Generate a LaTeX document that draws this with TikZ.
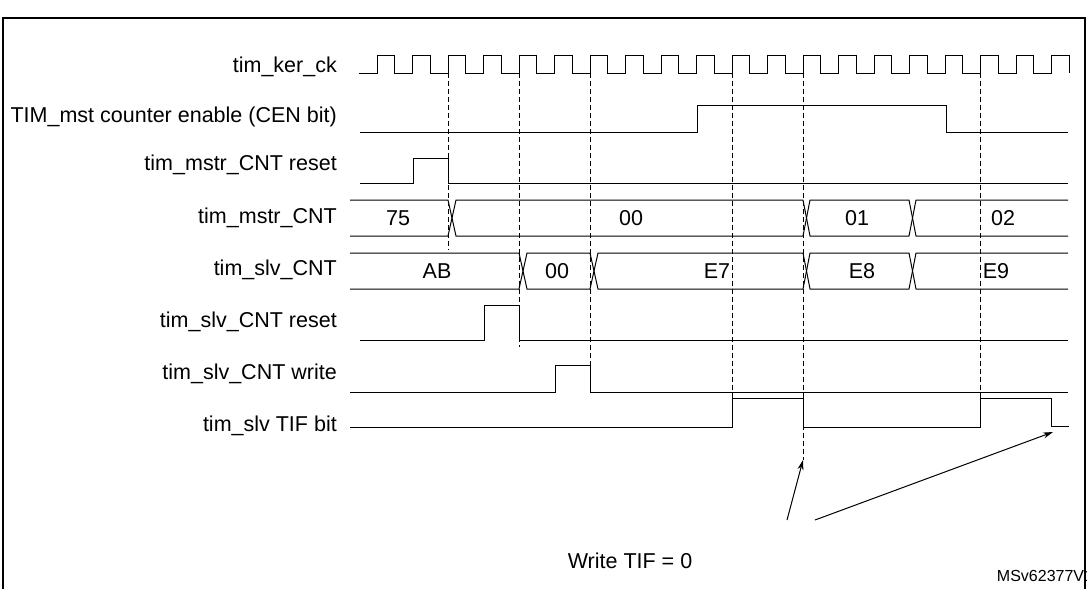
\documentclass[tikz,border=0pt]{standalone}
\usepackage{fontspec}
\setmainfont{Liberation Sans}
\usetikzlibrary{arrows.meta}
\begin{document}
\begin{tikzpicture}[x=1pt,y=-1pt,
  sig/.style={line width=1pt,line join=miter},
  lbl/.style={anchor=east,font=\fontsize{21.5}{25}\selectfont,inner sep=0pt},
  val/.style={font=\fontsize{21.5}{25}\selectfont,inner sep=0pt},
  dsh/.style={dashed,line width=0.7pt,dash pattern=on 5pt off 3pt},
  arr/.style={-{Stealth[length=10pt,width=6pt]},line width=1pt}]
\useasboundingbox (0,0) rectangle (1087,589);
\draw[line width=1.2pt] (3,600) -- (3,18) -- (1085,18) -- (1085,600);
% labels
\node[lbl] (l1) at (337,67) {tim\_ker\_ck};
\node[lbl] (l2) at (337,117) {TIM\_mst counter enable (CEN bit)};
\node[lbl] (l3) at (337,165) {tim\_mstr\_CNT reset};
\node[lbl] (l4) at (337,218) {tim\_mstr\_CNT};
\node[lbl] (l5) at (337,270) {tim\_slv\_CNT};
\node[lbl] (l6) at (337,322) {tim\_slv\_CNT reset};
\node[lbl] (l7) at (337,374) {tim\_slv\_CNT write};
\node[lbl] (l8) at (337,426) {tim\_slv TIF bit};
% clock
\draw[sig] (359,73) -- (377,73)
 \foreach \k in {0,...,18} { -- ({377+35.5*\k},73) -- ({377+35.5*\k},55) -- ({394.75+35.5*\k},55) -- ({394.75+35.5*\k},73) -- ({412.5+35.5*\k},73) }
 -- (1051.5,73) -- (1051.5,55) -- (1069,55) -- (1069,73);
% dashed
\draw[dsh] (448,73) -- (448,250);
\draw[dsh] (519,73) -- (519,347);
\draw[dsh] (590,73) -- (590,366);
\draw[dsh] (732.5,73) -- (732.5,398);
\draw[dsh] (803.5,73) -- (803.5,460);
\draw[dsh] (980.5,73) -- (980.5,398);
% CEN
\draw[sig] (360,132) -- (697,132) -- (697,105) -- (946,105) -- (946,132) -- (1068,132);
% mstr reset
\draw[sig] (360,183) -- (413,183) -- (413,158) -- (448.5,158) -- (448.5,183) -- (1068,183);
% mstr_CNT bus
\draw[sig] (350,200) -- (448,200) -- (456,236) -- (803,236) -- (810,200) -- (909,200) -- (916,236) -- (1068,236);
\draw[sig] (350,236) -- (448,236) -- (456,200) -- (803,200) -- (810,236) -- (909,236) -- (916,200) -- (1068,200);
\node[val] (m1) at (398,218) {75};
\node[val] (m2) at (631,218) {00};
\node[val] (m3) at (857,218) {01};
\node[val] (m4) at (1003,218) {02};
% slv_CNT bus
\draw[sig] (350,253) -- (519,253) -- (527,289) -- (590,289) -- (598,253) -- (803,253) -- (810,289) -- (909,289) -- (916,253) -- (1068,253);
\draw[sig] (350,289) -- (519,289) -- (527,253) -- (590,253) -- (598,289) -- (803,289) -- (810,253) -- (909,253) -- (916,289) -- (1068,289);
\node[val] (s1) at (437,271) {AB};
\node[val] (s2) at (557,271) {00};
\node[val] (s3) at (717,271) {E7};
\node[val] (s4) at (862,271) {E8};
\node[val] (s5) at (996,271) {E9};
% slv reset
\draw[sig] (360,340) -- (484,340) -- (484,305) -- (519,305) -- (519,340) -- (1068,340);
% slv write
\draw[sig] (350,392) -- (555,392) -- (555,365) -- (590,365) -- (590,392) -- (1068,392);
% TIF
\draw[sig] (350,427) -- (732.5,427) -- (732.5,398) -- (803.5,398) -- (803.5,427) -- (980.5,427) -- (980.5,398) -- (1051,398) -- (1051,426) -- (1069,426);
% annotation
\node[val] (w) at (630,561) {Write TIF = 0};
\coordinate (t1) at (803,460);
\coordinate (t2) at (1053,432);
\draw[arr] (787,520) -- (t1);
\draw[arr] (815,520) -- (t2);
\node[font=\fontsize{16}{19}\selectfont,inner sep=0pt] (id) at (1045,576) {MSv62377V1};
\end{tikzpicture}
\end{document}
